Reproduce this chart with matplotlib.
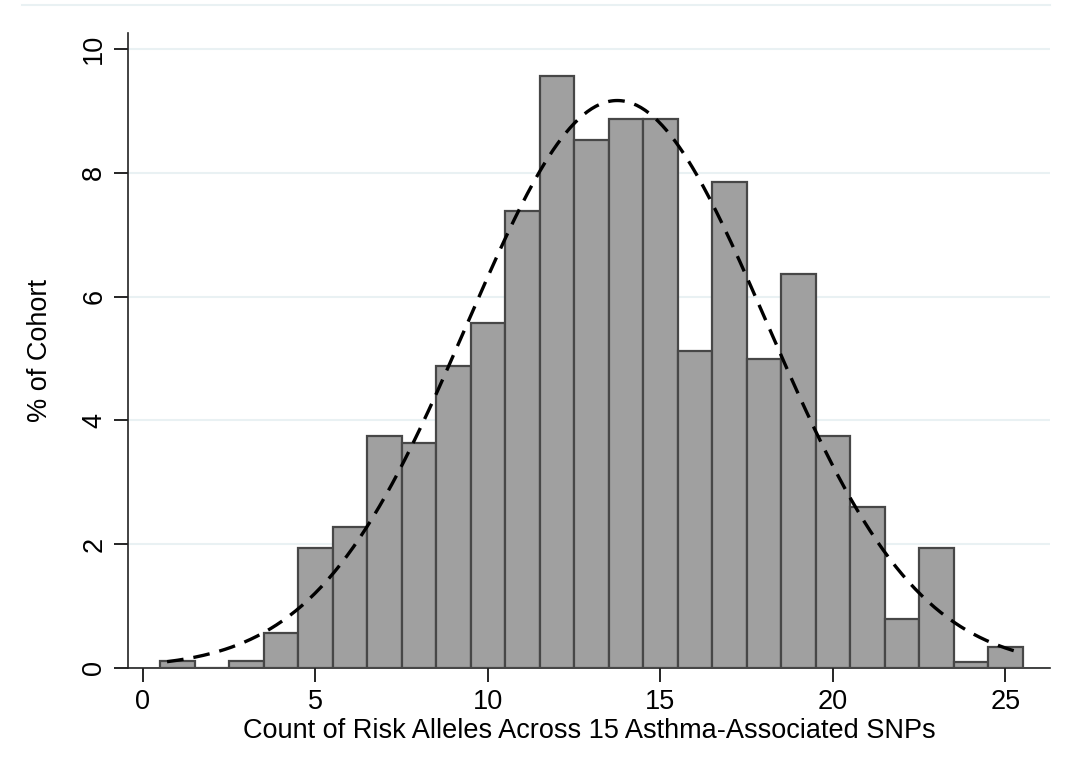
import numpy as np
import matplotlib
matplotlib.use("Agg")
import matplotlib.pyplot as plt

# bin centres (width 1) and percent of cohort in each bin
allele_counts = np.arange(1, 26)
pct_cohort = [0.11, 0.0, 0.11, 0.57, 1.94, 2.28, 3.75, 3.64, 4.88, 5.57,
              7.38, 9.56, 8.53, 8.87, 8.87, 5.12, 7.85, 5.0, 6.37, 3.75,
              2.6, 0.79, 1.94, 0.1, 0.34]

# normal overlay
norm_mean = 13.75
norm_sd = 4.35

x_ticks = [0, 5, 10, 15, 20, 25]
y_ticks = [0, 2, 4, 6, 8, 10]

plt.rcParams['font.family'] = ['Liberation Sans', 'DejaVu Sans']

fig = plt.figure(figsize=(10.68, 7.71), dpi=100)
ax = fig.add_axes([0.1199, 0.1336, 0.983 - 0.1199, 0.957 - 0.1336])

ax.bar(allele_counts, pct_cohort, width=1.0, color='#a0a0a0',
       edgecolor='#474747', linewidth=1.6, zorder=3)

xs = np.linspace(0.7, 25.5, 400)
ys = 100 / (norm_sd * np.sqrt(2 * np.pi)) * np.exp(-0.5 * ((xs - norm_mean) / norm_sd) ** 2)
ax.plot(xs, ys, color='black', linestyle=(0, (5, 3)), linewidth=2.4, zorder=4)

ax.set_xlim(-0.43, 26.29)
ax.set_ylim(0, 10.26)
ax.set_xticks(x_ticks)
ax.set_yticks(y_ticks)
ax.set_yticklabels([str(v) for v in y_ticks], rotation=90, va='center')
ax.tick_params(axis='both', labelsize=19.5, length=10, width=1.2, direction='out', pad=5)

ax.grid(axis='y', color='#e9f1f3', linewidth=1.5, zorder=0)
ax.set_axisbelow(True)
for s in ['top', 'right']:
    ax.spines[s].set_visible(False)
for s in ['left', 'bottom']:
    ax.spines[s].set_linewidth(1.2)
    ax.spines[s].set_color('#222222')

ax.set_xlabel('Count of Risk Alleles Across 15 Asthma-Associated SNPs', fontsize=19.5, labelpad=2)
ax.set_ylabel('% of Cohort', fontsize=19.5, labelpad=20)

# faint border line at the top of the graph region
fig.add_artist(plt.Line2D([22 / 1068, 1050 / 1068], [1 - 5 / 771, 1 - 5 / 771],
                          color='#e9f1f3', linewidth=1.5))

fig.savefig('out.png', dpi=100)
